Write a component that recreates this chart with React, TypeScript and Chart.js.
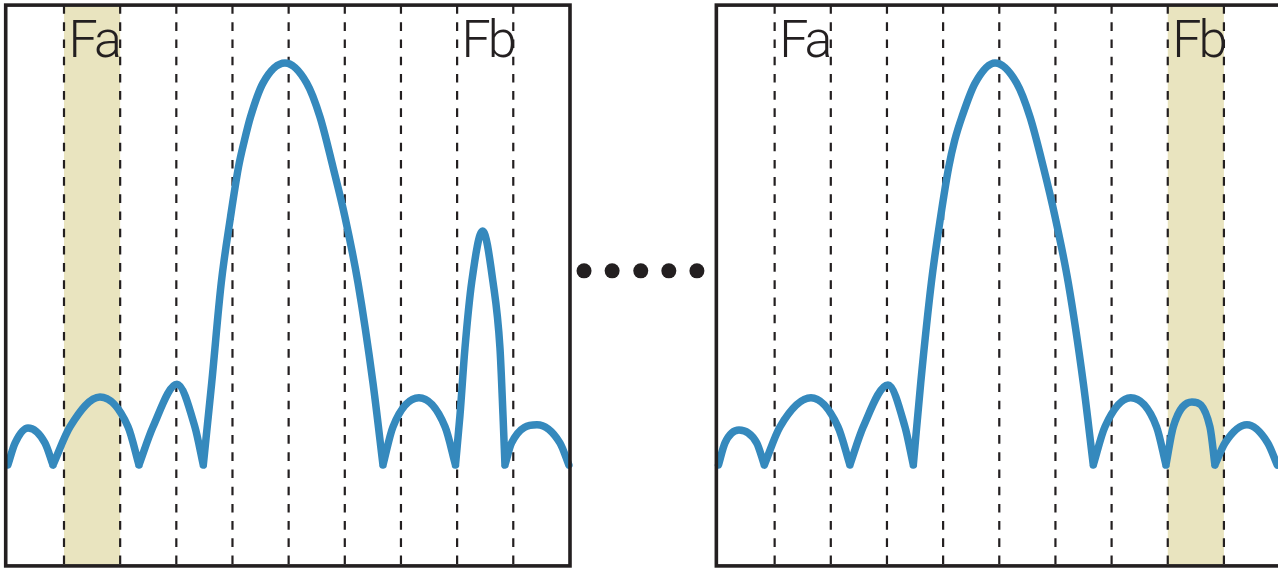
import React, { useEffect, useRef } from 'react';
import { Chart, registerables } from 'chart.js';

Chart.register(...registerables);

// ---- data (x in grid divisions within a panel, y relative: side-lobe minima = 0, main peak = 100)
const gridLines = [1, 2, 3, 4, 5, 6, 7, 8, 9];
const panelOffsets = [0, 12.654];
const panelFrom = -0.038;
const panelTo = 10.01;
const panelTop = 114.4;
const panelBottom = -25.1;

const leftX = [0, 0.13, 0.359, 0.66, 0.804, 1.107, 1.641, 2.14, 2.335, 2.585, 3.012, 3.33, 3.48, 3.63, 3.8, 3.965, 4.107, 4.214, 4.321, 4.543, 4.935, 5.322, 5.558, 5.79, 6.003, 6.235, 6.502, 6.68, 6.858, 7.321, 7.785, 7.971, 8.051, 8.14, 8.26, 8.455, 8.639, 8.763, 8.817, 8.852, 8.97, 9.422, 9.83, 9.99];
const leftY = [0, 5.5, 9.2, 5.5, 0, 9.5, 16.9, 9.5, 0, 9.5, 20.1, 9.5, 0, 20.4, 45.3, 61.7, 74.1, 80.8, 86.6, 95.0, 100, 95.0, 86.6, 74.1, 61.7, 45.3, 20.4, 0, 9.5, 16.7, 9.5, 0, 12.4, 29.1, 45.5, 58.2, 45.5, 29.1, 12.4, 0, 5.5, 10, 5.5, 0];

const rightX = [0, 0.116, 0.365, 0.68, 0.816, 1.095, 1.647, 2.128, 2.34, 2.578, 3.018, 3.32, 3.469, 3.601, 3.79, 3.955, 4.1, 4.207, 4.335, 4.57, 4.924, 5.31, 5.547, 5.785, 5.994, 6.229, 6.496, 6.674, 6.882, 7.34, 7.8, 7.968, 8.098, 8.431, 8.751, 8.84, 9.02, 9.41, 9.78, 9.95];
const rightY = [0, 5.5, 8.7, 5.5, 0, 9.5, 16.7, 9.5, 0, 9.5, 19.9, 9.5, 0, 20.4, 45.3, 61.7, 74.1, 80.8, 86.6, 95.0, 100, 95.0, 86.6, 74.1, 61.7, 45.3, 20.4, 0, 9.5, 16.7, 9.5, 0, 9.5, 15.7, 9.5, 0, 5.5, 10, 5.5, 0];

const bandPanel = [0, 1];
const bandFrom = [1, 8];
const bandTo = [2, 9];

const labelText = ['Fa', 'Fb', 'Fa', 'Fb'];
const labelPanel = [0, 0, 1, 1];
const labelGrid = [1, 8, 1, 8];
const labelY = 101.5;

const dotX = [10.26, 10.76, 11.27, 11.77, 12.27];
const dotY = [48.3, 48.3, 48.3, 48.3, 48.3];

const INK = '#231f20';
const BLUE = '#3589bd';
const BAND = '#e9e4bf';

function buildCurve(xs: number[], ys: number[], off: number) {
  const pts: any[] = [];
  xs.forEach((x, i) => {
    const p = { x: x + off, y: ys[i] };
    pts.push(p);
    const interior = i > 0 && i < xs.length - 1;
    if (interior && ys[i] === 0) {
      pts.push({ x: x + off, y: null });
      pts.push({ x: x + off, y: ys[i] });
    }
  });
  return pts;
}

export default function App() {
  const ref = useRef<HTMLCanvasElement>(null);

  useEffect(() => {
    document.body.style.margin = '0';
    if (!ref.current) return;

    const datasets: any[] = [];
    const curves = [
      buildCurve(leftX, leftY, panelOffsets[0]),
      buildCurve(rightX, rightY, panelOffsets[1]),
    ];
    curves.forEach((data) => {
      datasets.push({
        type: 'line',
        data,
        borderColor: BLUE,
        borderWidth: 7.5,
        cubicInterpolationMode: 'monotone',
        spanGaps: false,
        pointRadius: 0,
        borderCapStyle: 'round',
        borderJoinStyle: 'round',
        fill: false,
        order: 0,
      });
    });
    panelOffsets.forEach((off) => {
      gridLines.forEach((g) => {
        datasets.push({
          type: 'line',
          data: [
            { x: g + off, y: panelTop },
            { x: g + off, y: panelBottom },
          ],
          borderColor: INK,
          borderWidth: 2.2,
          borderDash: [8.6, 8.6],
          pointRadius: 0,
          tension: 0,
          fill: false,
          order: 2,
        });
      });
    });
    datasets.push({
      type: 'scatter',
      data: dotX.map((x, i) => ({ x, y: dotY[i] })),
      backgroundColor: INK,
      borderWidth: 0,
      pointRadius: 7.5,
      showLine: false,
      order: 1,
    });

    const decor = {
      id: 'decor',
      beforeDatasetsDraw(chart: any) {
        const { ctx, scales } = chart;
        const xs = scales.x;
        const ys = scales.y;
        ctx.save();
        ctx.fillStyle = BAND;
        bandPanel.forEach((p, i) => {
          const off = panelOffsets[p];
          const x0 = xs.getPixelForValue(bandFrom[i] + off);
          const x1 = xs.getPixelForValue(bandTo[i] + off);
          const y0 = ys.getPixelForValue(panelTop);
          const y1 = ys.getPixelForValue(panelBottom);
          ctx.fillRect(x0, y0, x1 - x0, y1 - y0);
        });
        ctx.restore();
      },
      afterDatasetsDraw(chart: any) {
        const { ctx, scales } = chart;
        const xs = scales.x;
        const ys = scales.y;
        ctx.save();
        ctx.strokeStyle = INK;
        ctx.lineWidth = 3.6;
        panelOffsets.forEach((off) => {
          const x0 = xs.getPixelForValue(panelFrom + off);
          const x1 = xs.getPixelForValue(panelTo + off);
          const y0 = ys.getPixelForValue(panelTop);
          const y1 = ys.getPixelForValue(panelBottom);
          ctx.strokeRect(x0, y0, x1 - x0, y1 - y0);
        });
        ctx.fillStyle = INK;
        ctx.font = '300 52px "Roboto", "Open Sans", "Liberation Sans", sans-serif';
        try { (ctx as any).letterSpacing = '-3px'; } catch (e) {}
        ctx.textAlign = 'left';
        ctx.textBaseline = 'alphabetic';
        labelText.forEach((t, i) => {
          const off = panelOffsets[labelPanel[i]];
          const x = xs.getPixelForValue(labelGrid[i] + off) + 4.5;
          const y = ys.getPixelForValue(labelY);
          ctx.fillText(t, x, y);
        });
        ctx.restore();
      },
    };

    const chart = new Chart(ref.current, {
      type: 'line',
      data: { datasets },
      options: {
        responsive: true,
        maintainAspectRatio: false,
        animation: false,
        layout: { padding: 0, autoPadding: false },
        plugins: { legend: { display: false }, tooltip: { enabled: false } },
        elements: { point: { radius: 0 } },
        scales: {
          x: { type: 'linear', min: -0.1396, max: 22.617, display: false },
          y: { type: 'linear', min: -25.87, max: 115.67, display: false },
        },
      },
      plugins: [decor],
    } as any);

    return () => chart.destroy();
  }, []);

  return (
    <div
      style={{
        position: 'fixed',
        left: 0,
        top: 0,
        width: 1278,
        height: 569,
        overflow: 'hidden',
        background: '#ffffff',
      }}
    >
      <canvas ref={ref} />
    </div>
  );
}
